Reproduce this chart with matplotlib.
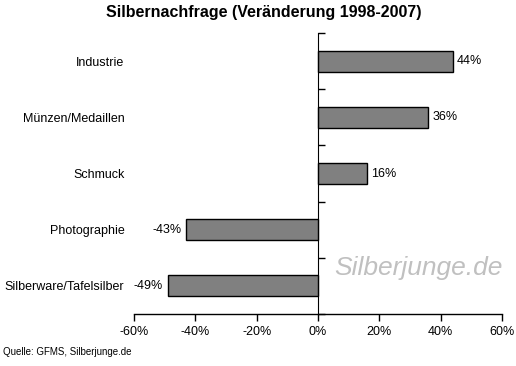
import matplotlib.pyplot as plt
from matplotlib.ticker import FuncFormatter

categories = ['Industrie', 'Münzen/Medaillen', 'Schmuck', 'Photographie', 'Silberware/Tafelsilber']
changes = [44, 36, 16, -43, -49]
xticks = [-60, -40, -20, 0, 20, 40, 60]

plt.rcParams['font.family'] = ['Liberation Sans', 'DejaVu Sans']

fig = plt.figure(figsize=(5.16, 3.66), dpi=100)
ax = fig.add_axes([0.2597, 0.1421, 0.7132, 0.7677])

pos = list(range(len(categories)))
ax.barh(pos, changes, height=0.37, color='#808080', edgecolor='black', linewidth=1)

for p, v in zip(pos, changes):
    if v >= 0:
        ax.text(v + 1.3, p, f'{v}%', va='center', ha='left', fontsize=9)
    else:
        ax.text(v - 1.5, p, f'{v}%', va='center', ha='right', fontsize=9)

ax.set_xlim(-60, 60)
ax.set_ylim(len(categories) - 0.5, -0.5)
ax.set_xticks(xticks)
ax.xaxis.set_major_formatter(FuncFormatter(lambda x, _: f'{x:.0f}%'))
ax.tick_params(axis='x', direction='out', length=5, width=1, labelsize=9, pad=4)

ax.set_yticks(pos)
ax.set_yticklabels(categories)
ax.tick_params(axis='y', length=0, labelsize=9, pad=7)

for s in ['top', 'right', 'left']:
    ax.spines[s].set_visible(False)
ax.spines['bottom'].set_linewidth(1)

# zero line with category-boundary ticks
sec = ax.secondary_yaxis(0.5)
sec.set_yticks([p - 0.5 for p in pos] + [len(categories) - 0.5])
sec.set_yticklabels([])
sec.tick_params(direction='out', length=5, width=1)
sec.spines['left'].set_linewidth(1)

fig.suptitle('Silbernachfrage (Veränderung 1998-2007)', x=0.512, y=0.985,
             fontsize=11.5, fontweight='bold', va='top')
ax.text(0.773, 0.164, 'Silberjunge.de', transform=ax.transAxes, ha='center', va='center',
        fontsize=19, style='italic', color='#c0c0c0')
fig.text(0.006, 0.038, 'Quelle: GFMS, Silberjunge.de', fontsize=7, ha='left', va='center')

fig.savefig('out.png', dpi=100)
